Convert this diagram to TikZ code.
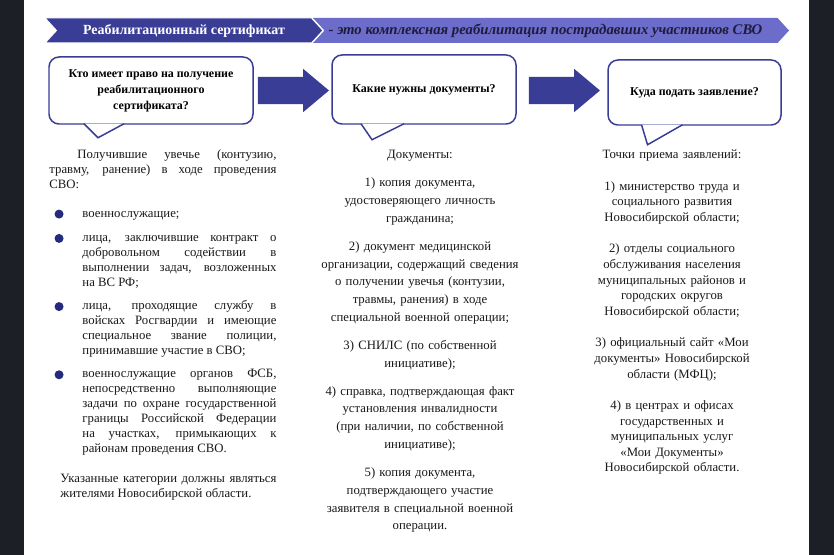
\documentclass[tikz,border=0pt]{standalone}
\usepackage{fontspec}
\setmainfont{Liberation Serif}
\usepackage{xcolor}
\usepackage{tikz}
\usetikzlibrary{shapes.symbols,shapes.arrows,positioning}
\definecolor{svoblue}{RGB}{58,61,150}
\definecolor{svolight}{RGB}{108,108,202}
\definecolor{svoink}{RGB}{28,28,60}
\definecolor{dotblue}{RGB}{36,42,125}
\definecolor{framedark}{RGB}{28,31,38}

\begin{document}
\begin{tikzpicture}[x=1bp,y=-1bp,
  band/.style={signal,signal from=west,signal to=east,signal pointer angle=95,
               minimum height=25bp,inner sep=0pt,font=\bfseries\fontsize{14}{16}\selectfont},
  bubble/.style={rectangle,rounded corners=10pt,draw=svoblue,line width=1.5pt,fill=white,
                 align=center,inner sep=2pt,font=\bfseries\fontsize{12}{16}\selectfont},
  tail/.style={draw=svoblue,line width=1.5pt,fill=white},
  bigarr/.style={single arrow,fill=svoblue,minimum height=71bp,minimum width=43bp,
                 single arrow head extend=8bp,single arrow tip angle=80,
                 inner xsep=0pt,inner ysep=13.5bp},
  col/.style={inner sep=0pt,text=black!90,execute at begin node=\strut,execute at end node=\strut},
  para/.style={col,align=justify,font=\fontsize{12.8}{15}\selectfont},
  dot/.style={circle,fill=dotblue,minimum size=9bp,inner sep=0pt},
  node distance=8bp]
  \useasboundingbox (0,0) rectangle (834,555);
  \fill[white] (0,0) rectangle (834,555);
  \fill[framedark] (0,0) rectangle (24,555);
  \fill[framedark] (809,0) rectangle (834,555);

  % title band
  \node[band,fill=svolight,text=svoink,font=\bfseries\itshape\fontsize{14.8}{16}\selectfont,
        minimum width=476bp] (motto) at (551,30.5) {- это комплексная реабилитация пострадавших участников СВО\hspace*{11bp}};
  \node[band,fill=svoblue,text=white,draw=white,line width=1pt,minimum width=278bp] (title) at (184,30.5) {Реабилитационный сертификат};

  % questions
  \node[bubble,minimum width=204bp,minimum height=67bp] (who) at (151,90.5) {Кто имеет право на получение\\реабилитационного\\сертификата?};
  \node[bigarr,right=4bp of who] (ar1) {};
  \node[bubble,minimum width=184bp,minimum height=69bp,right=2bp of ar1,yshift=1bp] (docs) {Какие нужны документы?};
  \node[bigarr,right=12bp of docs,yshift=-1bp] (ar2) {};
  \node[bubble,minimum width=173bp,minimum height=65bp,right=7bp of ar2,yshift=-2bp] (where) {Куда подать заявление?};
  \draw[tail] ([xshift=-67bp,yshift=1bp]who.south) -- ([xshift=-53bp,yshift=-13bp]who.south) -- ([xshift=-27bp,yshift=1bp]who.south);
  \draw[tail] ([xshift=-63bp,yshift=1bp]docs.south) -- ([xshift=-52bp,yshift=-15bp]docs.south) -- ([xshift=-20bp,yshift=1bp]docs.south);
  \draw[tail] ([xshift=-53bp,yshift=1bp]where.south) -- ([xshift=-47bp,yshift=-19bp]where.south) -- ([xshift=-12bp,yshift=1bp]where.south);

  % who column
  \node[para,text width=227bp,below=23.5bp of who.south west,anchor=north west,xshift=1bp] (intro)
    {\hspace*{28bp}Получившие увечье (контузию,\linebreak травму, ранение) в ходе проведения\linebreak СВО:};
  \node[para,text width=194bp,below=13bp of intro.south west,anchor=north west,xshift=33bp] (b1) {военнослужащие;};
  \node[para,text width=194bp,below=9bp of b1.south west,anchor=north west] (b2)
    {лица, заключившие контракт о\linebreak добровольном содействии в\linebreak выполнении задач, возложенных\linebreak на ВС РФ;};
  \node[para,text width=194bp,below=of b2.south west,anchor=north west] (b3)
    {лица, проходящие службу в\linebreak войсках Росгвардии и имеющие\linebreak специальное звание полиции,\linebreak принимавшие участие в СВО;};
  \node[para,text width=194bp,below=of b3.south west,anchor=north west] (b4)
    {военнослужащие органов ФСБ,\linebreak непосредственно выполняющие\linebreak задачи по охране государственной\linebreak границы Российской Федерации\linebreak на участках, примыкающих к\linebreak районам проведения СВО.};
  \node[para,text width=216bp,below=15bp of b4.south west,anchor=north west,xshift=-22bp] (note)
    {Указанные категории должны являться\linebreak жителями Новосибирской области.};
  \foreach \b in {b1,b2,b3,b4}
    \node[dot,left=18.5bp of \b.north west,yshift=-7.6bp] (dot-\b) {};

  % docs column
  \node[col,align=center,text width=250bp,font=\fontsize{12.8}{17.9}\selectfont,
        below=21.5bp of docs,xshift=-4bp] (doclist)
    {Документы:\\[10bp]
     1) копия документа,\\удостоверяющего личность\\гражданина;\\[10bp]
     2) документ медицинской\\организации, содержащий сведения\\о получении увечья (контузии,\\травмы, ранения) в ходе\\специальной военной операции;\\[10bp]
     3) СНИЛС (по собственной\\инициативе);\\[10bp]
     4) справка, подтверждающая факт\\установления инвалидности\\(при наличии, по собственной\\инициативе);\\[10bp]
     5) копия документа,\\подтверждающего участие\\заявителя в специальной военной\\операции.};

  % where column
  \node[col,align=center,text width=230bp,font=\fontsize{12.8}{15.7}\selectfont,
        below=22bp of where,xshift=-22.5bp] (places)
    {Точки приема заявлений:\\[15.7bp]
     1) министерство труда и\\социального развития\\Новосибирской области;\\[15.7bp]
     2) отделы социального\\обслуживания населения\\муниципальных районов и\\городских округов\\Новосибирской области;\\[15.7bp]
     3) официальный сайт «Мои\\документы» Новосибирской\\области (МФЦ);\\[15.7bp]
     4) в центрах и офисах\\государственных и\\муниципальных услуг\\«Мои Документы»\\Новосибирской области.};
\end{tikzpicture}
\end{document}
